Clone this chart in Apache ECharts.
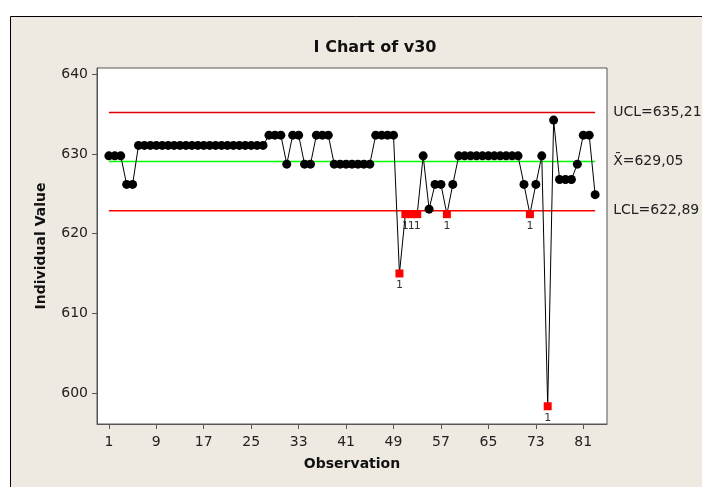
<!DOCTYPE html>
<html>
<head>
<meta charset="utf-8">
<script src="https://cdn.jsdelivr.net/npm/echarts@6/dist/echarts.min.js"></script>
<style>
  html, body { margin: 0; padding: 0; background: #fff; }
  #chart { width: 702px; height: 487px; }
</style>
</head>
<body>
<div id="chart"></div>
<script>
// individual values, observation 1..83
const values = [
  629.77, 629.77, 629.77, 626.18, 626.18,
  631.08, 631.08, 631.08, 631.08, 631.08, 631.08, 631.08, 631.08, 631.08, 631.08, 631.08,
  631.08, 631.08, 631.08, 631.08, 631.08, 631.08, 631.08, 631.08, 631.08, 631.08, 631.08,
  632.37, 632.37, 632.37, 628.73, 632.37, 632.37, 628.73, 628.73, 632.37, 632.37, 632.37,
  628.73, 628.73, 628.73, 628.73, 628.73, 628.73, 628.73,
  632.37, 632.37, 632.37, 632.37,
  615.0, 622.45, 622.45, 622.45, 629.77, 623.08, 626.18, 626.18, 622.45, 626.18,
  629.77, 629.77, 629.77, 629.77, 629.77, 629.77, 629.77, 629.77, 629.77, 629.77, 629.77,
  626.18, 622.45, 626.18, 629.77, 598.33, 634.26,
  626.8, 626.8, 626.8, 628.73, 632.37, 632.37, 624.9
];
// observations that fail test 1
const flagged = [50, 51, 52, 53, 58, 72, 75];
const ucl = 635.21;
const centre = 629.05;
const lcl = 622.89;
const xTicks = [1, 9, 17, 25, 33, 41, 49, 57, 65, 73, 81];
const yTicks = [600, 610, 620, 630, 640];

const chart = echarts.init(document.getElementById('chart'), null, { renderer: 'canvas' });

const pts = values.map((v, i) => {
  const obs = i + 1;
  if (flagged.includes(obs)) {
    return {
      value: [obs, v],
      symbol: 'rect',
      symbolSize: 8,
      itemStyle: { color: '#ff0000' },
      label: {
        show: true, position: 'bottom', distance: 2, formatter: '1',
        color: '#333', fontSize: 11, fontFamily: 'DejaVu Sans'
      }
    };
  }
  return [obs, v];
});

const lastObs = values.length;
// control limit drawn as a two-point line with its label at the end
function ctrlSeries(y, color, text) {
  return {
    type: 'line',
    data: [[1, y], [lastObs, y]],
    symbol: 'none',
    silent: true,
    z: 1,
    lineStyle: { color: color, width: 1.5 },
    endLabel: {
      show: true, distance: 18, formatter: text,
      fontFamily: 'DejaVu Sans', fontSize: 14, color: '#222'
    }
  };
}

const axisFont = { fontFamily: 'DejaVu Sans', fontSize: 14, color: '#222' };

chart.setOption({
  animation: false,
  backgroundColor: '#fff',
  graphic: [{
    type: 'rect', z: -10,
    shape: { x: 10.5, y: 16.5, width: 760, height: 520 },
    style: { fill: '#eeeae1', stroke: '#000', lineWidth: 1 }
  }],
  title: {
    text: 'I Chart of v30',
    left: 370, top: 35, textAlign: 'center',
    textStyle: { fontFamily: 'DejaVu Sans', fontWeight: 'bold', fontSize: 16, color: '#111' }
  },
  grid: {
    left: 97, right: 95, top: 68, bottom: 63,
    show: true, backgroundColor: '#fff', borderColor: '#555', borderWidth: 1
  },
  xAxis: {
    type: 'value', min: -1, max: 85,
    name: 'Observation', nameLocation: 'middle', nameGap: 33,
    nameTextStyle: { fontFamily: 'DejaVu Sans', fontWeight: 'bold', fontSize: 14, color: '#111' },
    axisLine: { show: true, onZero: false, lineStyle: { color: '#555' } },
    axisTick: { show: true, length: 5, customValues: xTicks, lineStyle: { color: '#555' } },
    axisLabel: Object.assign({ customValues: xTicks, margin: 11 }, axisFont),
    splitLine: { show: false }
  },
  yAxis: {
    type: 'value', min: 596.1, max: 640.8,
    name: 'Individual Value', nameLocation: 'middle', nameGap: 49, nameRotate: 90,
    nameTextStyle: { fontFamily: 'DejaVu Sans', fontWeight: 'bold', fontSize: 14, color: '#111' },
    axisLine: { show: true, onZero: false, lineStyle: { color: '#555' } },
    axisTick: { show: true, length: 5, customValues: yTicks, lineStyle: { color: '#555' } },
    axisLabel: Object.assign({ customValues: yTicks, margin: 9 }, axisFont),
    splitLine: { show: false }
  },
  series: [
    ctrlSeries(ucl, '#e00000', 'UCL=635,21'),
    ctrlSeries(centre, '#00ff00', 'X\u0304=629,05'),
    ctrlSeries(lcl, '#ff0000', 'LCL=622,89'),
    {
      type: 'line',
      data: pts,
      symbol: 'circle',
      symbolSize: 9,
      showAllSymbol: true,
      lineStyle: { color: '#000', width: 1 },
      itemStyle: { color: '#000' },
      z: 3
    }
  ]
});
</script>
</body>
</html>
